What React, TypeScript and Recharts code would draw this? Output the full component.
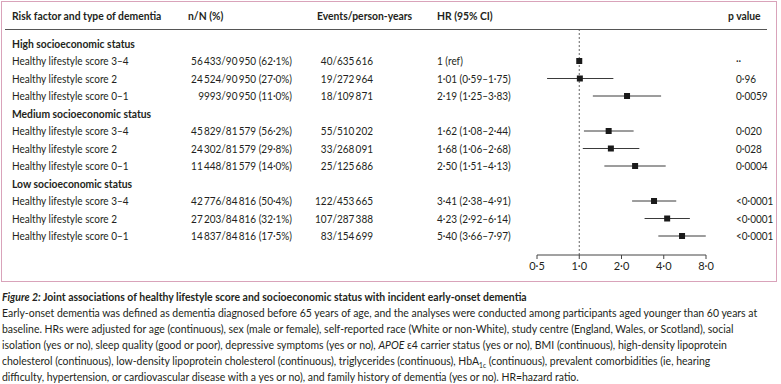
import { ScatterChart, Scatter, XAxis, YAxis, ErrorBar, ReferenceLine } from 'recharts'

const groups = ['High socioeconomic status', 'Medium socioeconomic status', 'Low socioeconomic status']
const scores = ['Healthy lifestyle score 3–4', 'Healthy lifestyle score 2', 'Healthy lifestyle score 0–1']
const counts = [
  '56\u2009433/90\u2009950 (62·1%)', '24\u2009524/90\u2009950 (27·0%)', '9993/90\u2009950 (11·0%)',
  '45\u2009829/81\u2009579 (56·2%)', '24\u2009302/81\u2009579 (29·8%)', '11\u2009448/81\u2009579 (14·0%)',
  '42\u2009776/84\u2009816 (50·4%)', '27\u2009203/84\u2009816 (32·1%)', '14\u2009837/84\u2009816 (17·5%)',
]
const events = [
  '40/635\u2009616', '19/272\u2009964', '18/109\u2009871',
  '55/510\u2009202', '33/268\u2009091', '25/125\u2009686',
  '122/453\u2009665', '107/287\u2009388', '83/154\u2009699',
]
const hr = [1, 1.01, 2.19, 1.62, 1.68, 2.5, 3.41, 4.23, 5.4]
const lower = [1, 0.59, 1.25, 1.08, 1.06, 1.51, 2.38, 2.92, 3.66]
const upper = [1, 1.75, 3.83, 2.44, 2.68, 4.13, 4.91, 6.14, 7.97]
const pValues = ['··', '0·96', '0·0059', '0·020', '0·028', '0·0004', '<0·0001', '<0·0001', '<0·0001']
const xTicks = [0.5, 1, 2, 4, 8]

const FONT = 'Lato, "Open Sans", sans-serif'
const INK = '#231f20'
const FS = 11
const SX = 0.91 // narrow the table type, the original uses a condensed face
const SX_BOLD = 0.94
const ROW_H = 17.5
const PLOT_TOP = 30
const PLOT_BOTTOM = 255
const FIRST_ROW_Y = 43.5

const dot = (v: number) => v.toFixed(2).replace('.', '·')

// group heading rows sit at 0, 4, 8; the lifestyle rows follow each heading
const rows = hr.map((v, k) => ({
  hr: v,
  row: Math.floor(k / 3) * 4 + 1 + (k % 3),
  err: [v - lower[k], upper[k] - v],
}))
const rowTicks = Array.from({ length: 12 }, (_, i) => i)

function T({ x, y, anchor = 'start', bold = false, children }: any) {
  return (
    <text
      transform={`translate(${x},${y}) scale(${bold ? SX_BOLD : SX},1)`}
      textAnchor={anchor}
      dominantBaseline="central"
      fontFamily={FONT}
      fontSize={FS}
      fontWeight={bold ? 700 : 400}
      fill={INK}
    >
      {children}
    </text>
  )
}

function RowTick(props: any) {
  const { y, payload } = props
  const i = payload.value
  if (i % 4 === 0) return <T x={12} y={y} bold>{groups[i / 4]}</T>
  const k = Math.floor(i / 4) * 3 + (i % 4) - 1
  const hrText = k === 0 ? '1 (ref)' : `${dot(hr[k])} (${dot(lower[k])}–${dot(upper[k])})`
  return (
    <g>
      <T x={12} y={y}>{scores[k % 3]}</T>
      <T x={292} y={y} anchor="end">{counts[k]}</T>
      <T x={373} y={y} anchor="end">{events[k]}</T>
      <T x={437} y={y}>{hrText}</T>
      <T x={736} y={y}>{pValues[k]}</T>
    </g>
  )
}

const Square = (p: any) => <rect x={p.cx - 3} y={p.cy - 3} width={6} height={6} fill="#1a1a1a" />

const headStyle: React.CSSProperties = {
  position: 'absolute',
  top: 9,
  fontFamily: FONT,
  fontSize: FS,
  fontWeight: 700,
  color: INK,
  whiteSpace: 'nowrap',
  transform: `scaleX(${SX_BOLD})`,
  transformOrigin: 'left',
  lineHeight: '14px',
}

const capLine: React.CSSProperties = {
  whiteSpace: 'nowrap',
  height: 16,
  lineHeight: '16px',
  transform: 'scaleX(0.95)',
  transformOrigin: 'left',
}

export default function App() {
  const yMin = -(FIRST_ROW_Y - PLOT_TOP) / ROW_H
  const yMax = yMin + (PLOT_BOTTOM - PLOT_TOP) / ROW_H
  return (
    <div style={{ position: 'absolute', left: 0, top: 0, width: 781, height: 384, background: '#fff', overflow: 'hidden' }}>
      <div style={{ position: 'absolute', left: 1, top: 1, width: 776, height: 281, border: '1.5px solid #d9a3ba', boxSizing: 'border-box' }} />
      <div style={{ ...headStyle, left: 12 }}>Risk factor and type of dementia</div>
      <div style={{ ...headStyle, left: 188 }}>n/N (%)</div>
      <div style={{ ...headStyle, left: 317 }}>Events/person-years</div>
      <div style={{ ...headStyle, left: 437 }}>HR (95% CI)</div>
      <div style={{ ...headStyle, left: 728 }}>p value</div>
      <div style={{ position: 'absolute', left: 5, top: 28.5, width: 762, height: 1.5, background: '#555' }} />

      <div style={{ position: 'absolute', left: 0, top: 0 }}>
        <ScatterChart width={781} height={285} margin={{ top: PLOT_TOP, right: 75, bottom: 0, left: 0 }}>
          <XAxis
            dataKey="hr"
            type="number"
            scale="log"
            domain={[0.5, 8]}
            allowDataOverflow
            ticks={xTicks}
            tickFormatter={(v: number) => v.toFixed(1).replace('.', '·')}
            height={30}
            stroke="#444"
            tickSize={4}
            tickMargin={3}
            tick={{ fontFamily: FONT, fontSize: FS, fill: INK }}
          />
          <YAxis
            dataKey="row"
            type="number"
            reversed
            domain={[yMin, yMax]}
            allowDataOverflow
            ticks={rowTicks}
            interval={0}
            width={537}
            axisLine={false}
            tickLine={false}
            tick={<RowTick />}
          />
          <ReferenceLine x={1} stroke="#666" strokeDasharray="2 2" strokeWidth={1} />
          <Scatter data={rows} shape={Square} isAnimationActive={false}>
            <ErrorBar dataKey="err" direction="x" width={0} stroke="#3a3a3a" strokeWidth={1} isAnimationActive={false} />
          </Scatter>
        </ScatterChart>
      </div>

      <div style={{ position: 'absolute', left: 2, top: 288.5, fontFamily: FONT, fontSize: 11, color: INK }}>
        <div style={{ ...capLine, fontWeight: 700 }}>
          <i>Figure 2:</i> Joint associations of healthy lifestyle score and socioeconomic status with incident early-onset dementia
        </div>
        <div style={capLine}>
          Early-onset dementia was defined as dementia diagnosed before 65 years of age, and the analyses were conducted among participants aged younger than 60 years at
        </div>
        <div style={capLine}>
          baseline. HRs were adjusted for age (continuous), sex (male or female), self-reported race (White or non-White), study centre (England, Wales, or Scotland), social
        </div>
        <div style={capLine}>
          isolation (yes or no), sleep quality (good or poor), depressive symptoms (yes or no), <i>APOE</i> ε4 carrier status (yes or no), BMI (continuous), high-density lipoprotein
        </div>
        <div style={capLine}>
          cholesterol (continuous), low-density lipoprotein cholesterol (continuous), triglycerides (continuous), HbA<sub style={{ fontSize: 7 }}>1c</sub> (continuous), prevalent comorbidities (ie, hearing
        </div>
        <div style={capLine}>
          difficulty, hypertension, or cardiovascular disease with a yes or no), and family history of dementia (yes or no). HR=hazard ratio.
        </div>
      </div>
    </div>
  )
}
